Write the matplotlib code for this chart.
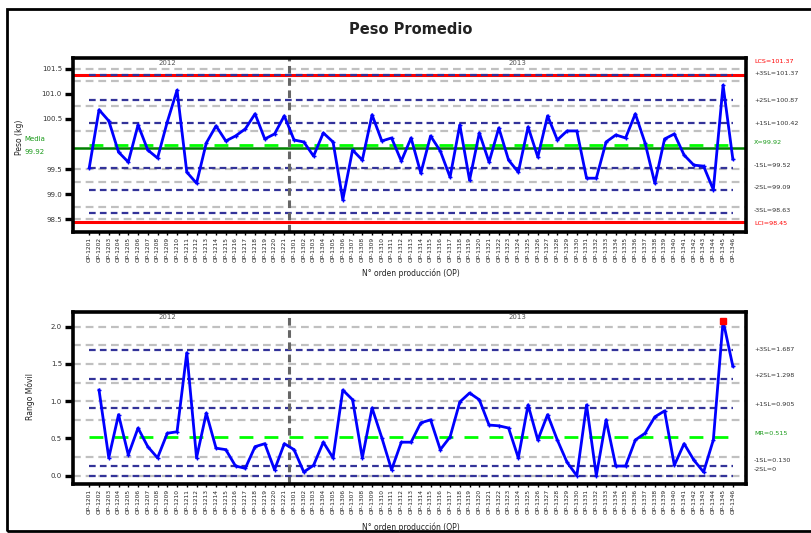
import numpy as np
import matplotlib
matplotlib.use("Agg")
import matplotlib.pyplot as plt
from matplotlib.patches import Rectangle
from matplotlib.transforms import blended_transform_factory

# ---------------- data ----------------
title = "Peso Promedio"
stage_names = ["2012", "2013"]
stage_sizes = [21, 46]
lot_labels = ["OP-%04d" % (1201 + k) for k in range(21)] + ["OP-%04d" % (1301 + k) for k in range(46)]

peso = [99.53, 100.68, 100.46, 99.84, 99.64, 100.38, 99.88, 99.72, 100.44, 101.07,
        99.44, 99.22, 100.02, 100.36, 100.06, 100.16, 100.30, 100.60, 100.10, 100.20,
        100.56,
        100.08, 100.04, 99.76, 100.22, 100.04, 98.89, 99.88, 99.68, 100.58, 100.06,
        100.12, 99.66, 100.12, 99.42, 100.16, 99.86, 99.34, 100.38, 99.28, 100.22,
        99.64, 100.32, 99.68, 99.44, 100.34, 99.74, 100.56, 100.08, 100.26, 100.26,
        99.32, 99.32, 100.04, 100.18, 100.12, 100.60, 100.02, 99.22, 100.10, 100.20,
        99.78, 99.58, 99.56, 99.09, 101.17, 99.70]

rango = [None, 1.15, 0.24, 0.82, 0.28, 0.64, 0.39, 0.24, 0.57, 0.59,
         1.65, 0.24, 0.84, 0.37, 0.35, 0.13, 0.10, 0.39, 0.43, 0.08,
         0.43, 0.35, 0.05, 0.14, 0.45, 0.24, 1.15, 1.02, 0.24, 0.91,
         0.51, 0.08, 0.45, 0.45, 0.71, 0.75, 0.35, 0.52, 0.99, 1.11,
         1.02, 0.68, 0.67, 0.64, 0.24, 0.95, 0.48, 0.82, 0.48, 0.18,
         0.00, 0.95, 0.00, 0.75, 0.13, 0.13, 0.48, 0.57, 0.79, 0.87,
         0.14, 0.43, 0.21, 0.05, 0.48, 2.08, 1.47]

# individual chart limits
ucl, cl, lcl = 101.37, 99.92, 98.45
cl_stage = 99.98
sig_top = [101.37, 100.87, 100.42, 99.52, 99.09, 98.63]
grey_top = [101.5, 101.25, 100.75, 100.25, 99.5, 99.25, 98.75, 98.5]
yticks_top = [101.5, 101.0, 100.5, 99.5, 99.0, 98.5]
right_top = [("LCS=101.37", 101.65, "red"), ("+3SL=101.37", 101.41, "#333333"),
             ("+2SL=100.87", 100.87, "#333333"), ("+1SL=100.42", 100.40, "#333333"),
             ("X\u0304=99.92", 100.02, "#1a9a1a"), ("-1SL=99.52", 99.58, "#333333"),
             ("-2SL=99.09", 99.13, "#333333"), ("-3SL=98.63", 98.67, "#333333"),
             ("LCI=98.45", 98.41, "red")]

# moving range chart limits
mr_ucl, mr_cl = 1.687, 0.515
sig_bot = [1.687, 1.298, 0.905, 0.130, 0.0]
grey_bot = [2.0, 1.75, 1.5, 1.25, 1.0, 0.75, 0.25, 0.0]
yticks_bot = [2.0, 1.5, 1.0, 0.5, 0.0]
right_bot = [("+3SL=1.687", 1.70, "#333333"), ("+2SL=1.298", 1.34, "#333333"),
             ("+1SL=0.905", 0.96, "#333333"), ("MR=0.515", 0.56, "#1a9a1a"),
             ("-1SL=0.130", 0.20, "#333333"), ("-2SL=0", 0.08, "#333333")]

# ---------------- figure ----------------
W, H = 811, 533
fig = plt.figure(figsize=(W / 100, H / 100), dpi=100)
fig.patches.append(Rectangle((7 / W, 2 / H), 1.2, 522 / H, transform=fig.transFigure,
                             fill=False, lw=2, ec="black"))
fig.text(411 / W, 1 - 29 / H, title, ha="center", va="center", fontsize=10.5,
         fontweight="bold", color="#222222")

ax1 = fig.add_axes([73 / W, 1 - 232 / H, 673 / W, 174 / H])
ax2 = fig.add_axes([73 / W, 1 - 484 / H, 673 / W, 172 / H])

x = np.arange(1, len(peso) + 1)
n = len(peso)
stage_break = stage_sizes[0] + 0.5
pe = np.array(peso, dtype=float)
mr = np.array([np.nan if v is None else v for v in rango], dtype=float)

BLUE = "#0000ff"
NAVY = "#333399"
GREY = "#c0c0c0"


def style(ax, ylim, yticks, fmt):
    ax.set_xlim(-0.67, n + 1.35)
    ax.set_ylim(*ylim)
    for s in ax.spines.values():
        s.set_linewidth(2.6)
        s.set_color("black")
    ax.set_yticks(yticks)
    ax.set_yticklabels([fmt % t for t in yticks], fontsize=5, color="#333333")
    ax.tick_params(axis="y", direction="out", length=6, width=2.4, pad=2)
    ax.set_xticks(x)
    ax.set_xticklabels(lot_labels, rotation=90, fontsize=4.2, color="#222222")
    ax.tick_params(axis="x", direction="out", length=2, width=1, pad=1.5)


# ---- top: individual values ----
ax = ax1
for g in grey_top:
    ax.axhline(g, color=GREY, lw=1.6, ls=(0, (3.5, 2.2)), zorder=1)
ax.axhline(ucl, color="red", lw=2.2, zorder=1.5)
ax.axhline(lcl, color="red", lw=2.2, zorder=1.5)
ax.hlines(cl_stage, x[0], x[-1], color="#00ff00", lw=2.0, linestyles=[(0, (5, 4))], zorder=1.6)
ax.axhline(cl, color="#008000", lw=1.8, zorder=2.1)
ax.hlines(sig_top, x[0], x[-1], color=NAVY, lw=1.6, linestyles=[(0, (3.0, 1.9))], zorder=2)
ax.axvline(stage_break, color="#666666", lw=2.2, ls=(0, (2.5, 1.5)), zorder=2.2)
ax.plot(x, pe, color=BLUE, lw=2.0, marker="+", ms=3, mew=1.0, zorder=3)
style(ax, (98.25, 101.71), yticks_top, "%.1f")
ax.text(0.14, 0.99, stage_names[0], transform=ax.transAxes, ha="center", va="top",
        fontsize=5, color="#555555")
ax.text(0.66, 0.99, stage_names[1], transform=ax.transAxes, ha="center", va="top",
        fontsize=5, color="#555555")
tr = blended_transform_factory(ax.transAxes, ax.transData)
for txt, yv, c in right_top:
    ax.text(1.012, yv, txt, transform=tr, fontsize=4.6, color=c, va="center", ha="left")
ax.text(-0.057, 100.1, "Media", transform=tr, fontsize=5, color="#1a9a1a", ha="center", va="center")
ax.text(-0.057, 99.84, "99.92", transform=tr, fontsize=5, color="#1a9a1a", ha="center", va="center")
fig.text(19 / W, 1 - 137 / H, "Peso (kg)", rotation=90, fontsize=5.5, ha="center",
         va="center", color="#222222")
fig.text(411 / W, 1 - 273 / H, "N° orden producción (OP)", fontsize=5.5, ha="center",
         va="center", color="#222222")

# ---- bottom: moving range ----
ax = ax2
for g in grey_bot:
    ax.axhline(g, color=GREY, lw=1.6, ls=(0, (3.5, 2.2)), zorder=1)
ax.hlines(mr_cl, x[0], x[-1], color="#00ff00", lw=2.0, linestyles=[(0, (5, 4))], zorder=1.6)
ax.hlines(sig_bot, x[0], x[-1], color=NAVY, lw=1.6, linestyles=[(0, (3.0, 1.9))], zorder=2)
ax.axvline(stage_break, color="#666666", lw=2.2, ls=(0, (2.5, 1.5)), zorder=2.2)
ax.plot(x, mr, color=BLUE, lw=2.0, marker="+", ms=3, mew=1.0, zorder=3)
out = mr > mr_ucl
ax.plot(x[out], mr[out], "s", color="red", ms=4, zorder=4)
style(ax, (-0.111, 2.197), yticks_bot, "%.1f")
ax.text(0.14, 0.99, stage_names[0], transform=ax.transAxes, ha="center", va="top",
        fontsize=5, color="#555555")
ax.text(0.66, 0.99, stage_names[1], transform=ax.transAxes, ha="center", va="top",
        fontsize=5, color="#555555")
tr = blended_transform_factory(ax.transAxes, ax.transData)
for txt, yv, c in right_bot:
    ax.text(1.012, yv, txt, transform=tr, fontsize=4.6, color=c, va="center", ha="left")
fig.text(30 / W, 1 - 396 / H, "Rango Móvil", rotation=90, fontsize=5.5, ha="center",
         va="center", color="#222222")
fig.text(411 / W, 1 - 527 / H, "N° orden producción (OP)", fontsize=5.5, ha="center",
         va="center", color="#222222")

fig.savefig("out.png", dpi=100)
